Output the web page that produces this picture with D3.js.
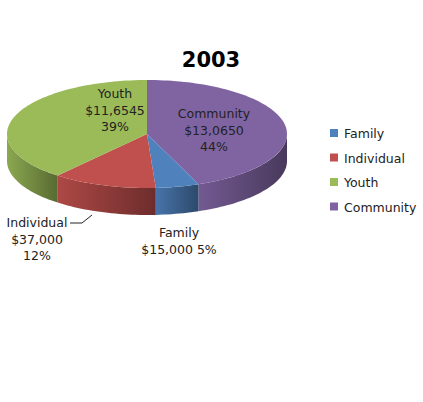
<!DOCTYPE html>
<html><head><meta charset="utf-8">
<script src="https://cdn.jsdelivr.net/npm/d3@7"></script>
<style>body{margin:0;background:#fff}text{font-family:"DejaVu Sans",sans-serif}</style>
</head><body><svg id="c" width="423" height="402"></svg>
<script>
const categories = ['Community', 'Family', 'Individual', 'Youth']
const shares = [44, 5, 12, 39]
const amounts = ['$13,0650', '$15,000', '$37,000', '$11,6545']
const legendOrder = ['Family', 'Individual', 'Youth', 'Community']
const colors = { Community: '#8064A2', Family: '#4F81BD', Individual: '#C0504D', Youth: '#9BBB59' }

const svg = d3.select('#c')
const cx = 147, cy = 134, rx = 140, ry = 54, depth = 27

const pie = d3.pie().sort(null).value(d => d.v)
const arcs = pie(categories.map((c, i) => ({ c, v: shares[i], amt: amounts[i] })))

const pt = (a, dy = 0) => [cx + rx * Math.sin(a), cy - ry * Math.cos(a) + dy]
function arcPts (a0, a1, dy) {
  const n = Math.max(2, Math.ceil((a1 - a0) / 0.03))
  return d3.range(n + 1).map(i => pt(a0 + (a1 - a0) * i / n, dy))
}

const defs = svg.append('defs')
categories.forEach(c => {
  const g = defs.append('linearGradient').attr('id', 'g' + c).attr('x1', 0).attr('x2', 1)
  const base = d3.color(colors[c])
  g.append('stop').attr('offset', 0).attr('stop-color', base.darker(0.3))
  g.append('stop').attr('offset', 1).attr('stop-color', base.darker(1.6))
})

// side walls (front half only)
arcs.forEach(d => {
  const a0 = Math.max(d.startAngle, Math.PI / 2)
  const a1 = Math.min(d.endAngle, 3 * Math.PI / 2)
  if (a1 <= a0) return
  const pts = arcPts(a0, a1, 0).concat(arcPts(a0, a1, depth).reverse())
  svg.append('path').attr('d', d3.line()(pts) + 'Z')
    .attr('fill', `url(#g${d.data.c})`)
})
// tops
arcs.forEach(d => {
  const pts = [[cx, cy]].concat(arcPts(d.startAngle, d.endAngle, 0))
  svg.append('path').attr('d', d3.line()(pts) + 'Z').attr('fill', colors[d.data.c])
})

svg.append('text').attr('x', 211).attr('y', 67).attr('text-anchor', 'middle')
  .attr('font-size', 21).attr('font-weight', 'bold').text('2003')

const labels = {
  Youth: { x: 115, y: 98, lines: d => [d.c, d.amt, d.v + '%'] },
  Community: { x: 214, y: 118, lines: d => [d.c, d.amt, d.v + '%'] },
  Individual: { x: 37, y: 227, lines: d => [d.c, d.amt, d.v + '%'] },
  Family: { x: 179, y: 237, lines: d => [d.c, d.amt + ' ' + d.v + '%'] }
}
arcs.forEach(d => {
  const L = labels[d.data.c]
  const t = svg.append('text').attr('text-anchor', 'middle').attr('font-size', 12.5).attr('fill', '#222')
  L.lines(d.data).forEach((s, i) => t.append('tspan').attr('x', L.x).attr('y', L.y + i * 16.5).text(s))
})
svg.append('path').attr('d', 'M70,223 L82,223 L92,215').attr('fill', 'none').attr('stroke', '#222')

const lg = svg.append('g')
legendOrder.forEach((c, i) => {
  lg.append('rect').attr('x', 330).attr('y', 129 + i * 24.5).attr('width', 8).attr('height', 8).attr('fill', colors[c])
  lg.append('text').attr('x', 344).attr('y', 138 + i * 24.5).attr('font-size', 12.5).attr('fill', '#222').text(c)
})
</script></body></html>
